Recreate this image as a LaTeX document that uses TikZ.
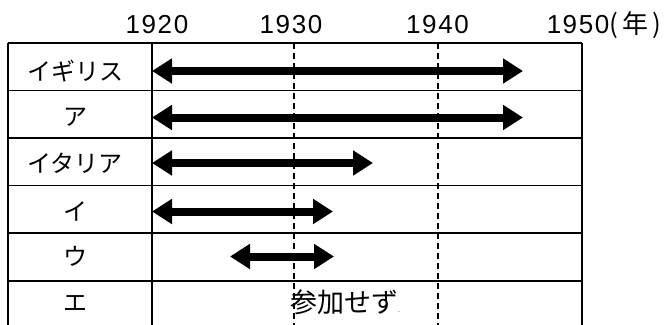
\documentclass[tikz,border=0pt]{standalone}
\usepackage{fontspec}
\setmainfont{Noto Sans CJK JP}
\newfontfamily\yearfont[LetterSpace=6]{Liberation Sans}
\usetikzlibrary{arrows.meta}
\tikzset{
  gridline/.style={line width=1.3pt, black},
  yearline/.style={line width=1.2pt, black, dash pattern=on 6pt off 4pt},
  period/.style={line width=8pt, black, {Triangle[length=20pt,width=24pt]}-{Triangle[length=20pt,width=24pt]}},
  yearlbl/.style={font=\yearfont\fontsize{26}{26}\selectfont, anchor=base, inner sep=0pt},
  rowlbl/.style={font=\fontsize{24}{24}\selectfont, inner sep=0pt},
}
\begin{document}
\begin{tikzpicture}[x=1pt,y=-1pt]
\useasboundingbox (0,0) rectangle (668,324);
\clip (0,0) rectangle (668,324);
\fill[white] (0,0) rectangle (668,324);
% year labels
\node[yearlbl] (y1920) at (157,33) {1920};
\node[yearlbl] (y1930) at (291,33) {1930};
\node[yearlbl] (y1940) at (437.5,33) {1940};
\node[yearlbl] (y1950) at (578,33) {1950};
\node[font=\fontsize{26}{26}\selectfont, anchor=base west, inner sep=0pt] (unit) at ([xshift=0pt]y1950.base east) {({\kern4pt}年{\kern4pt})};
% dashed year lines
\draw[yearline] (294,43) -- (294,330);
\draw[yearline] (438,43) -- (438,330);
% table
\foreach \yy in {43,90.5,138,185.5,233,281}
  \draw[gridline] (8,\yy) -- (582,\yy);
\foreach \xx in {8,152,582}
  \draw[gridline] (\xx,43) -- (\xx,330);
% row labels
\node[rowlbl] (r1) at (75,71) {イギリス};
\node[rowlbl] (r2) at (75,117.5) {ア};
\node[rowlbl] (r3) at (75,163) {イタリア};
\node[rowlbl] (r4) at (75,211.5) {イ};
\node[rowlbl] (r5) at (75,256.5) {ウ};
\node[rowlbl] (r6) at (75,303) {エ};
% periods
\coordinate (a1s) at (152,71);   \coordinate (a1e) at (523,71);
\coordinate (a2s) at (152,117.5);\coordinate (a2e) at (523,117.5);
\coordinate (a3s) at (152,163);  \coordinate (a3e) at (373,163);
\coordinate (a4s) at (152,211.5);\coordinate (a4e) at (333,211.5);
\coordinate (a5s) at (230,256.5);\coordinate (a5e) at (334,256.5);
\draw[period] (a1s) -- (a1e);
\draw[period] (a2s) -- (a2e);
\draw[period] (a3s) -- (a3e);
\draw[period] (a4s) -- (a4e);
\draw[period] (a5s) -- (a5e);
% not participating
\node[font=\fontsize{27}{27}\selectfont, anchor=west, inner sep=0pt] (none) at (290,302) {参加せず{\fontsize{7}{7}\selectfont .}};
\end{tikzpicture}
\end{document}
